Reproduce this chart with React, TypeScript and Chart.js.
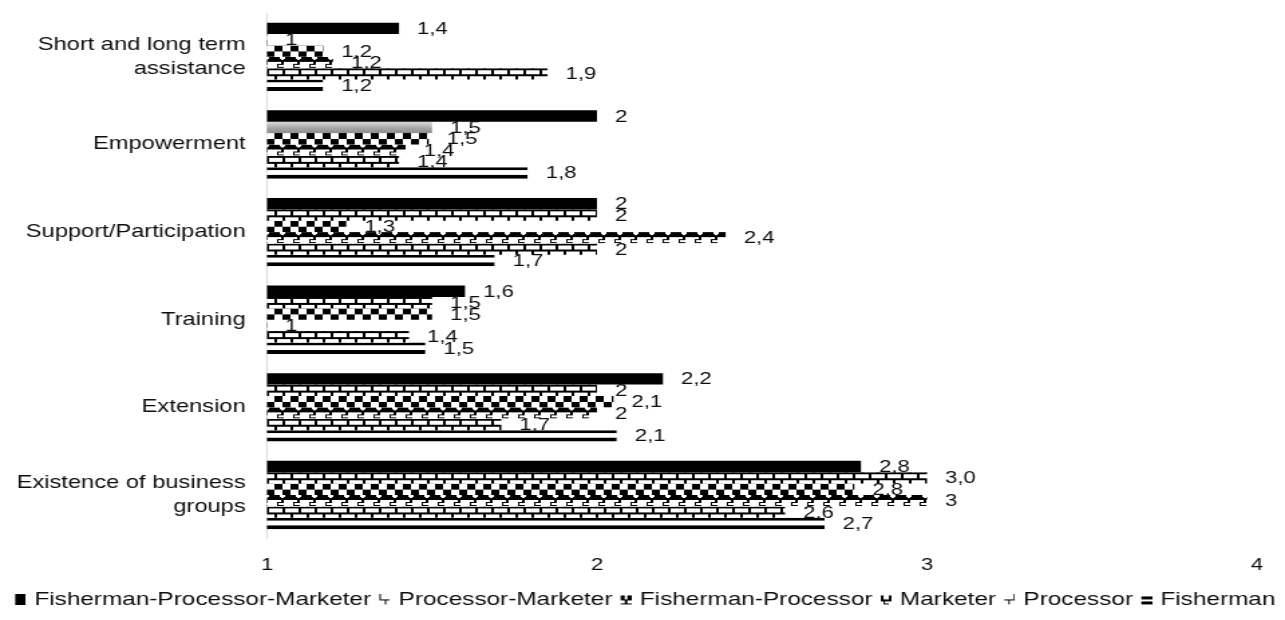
import React, { useEffect, useRef } from "react";
import { Chart, registerables } from "chart.js";

Chart.register(...registerables);

// ---------- data ----------
const categories: (string | string[])[] = [
  ["Short and long term", "assistance"],
  "Empowerment",
  "Support/Participation",
  "Training",
  "Extension",
  ["Existence of business", "groups"],
];

const seriesNames = [
  "Fisherman-Processor-Marketer",
  "Processor-Marketer",
  "Fisherman-Processor",
  "Marketer",
  "Processor",
  "Fisherman",
];

// bar lengths
const fpmValues = [1.4, 2, 2, 1.6, 2.2, 2.8];
const pmValues = [1, 1.5, 2, 1.5, 2, 3.0];
const fpValues = [1.17, 1.49, 1.24, 1.5, 2.05, 2.78];
const marketerValues = [1.2, 1.42, 2.39, 1, 2, 3];
const processorValues = [1.85, 1.4, 2, 1.43, 1.71, 2.57];
const fishermanValues = [1.17, 1.79, 1.69, 1.48, 2.06, 2.69];

// data label texts as printed
const fpmLabels = ["1,4", "2", "2", "1,6", "2,2", "2,8"];
const pmLabels = ["1", "1,5", "2", "1,5", "2", "3,0"];
const fpLabels = ["1,2", "1,5", "1,3", "1,5", "2,1", "2,8"];
const marketerLabels = ["1,2", "1,4", "2,4", "1", "2", "3"];
const processorLabels = ["1,9", "1,4", "2", "1,4", "1,7", "2,6"];
const fishermanLabels = ["1,2", "1,8", "1,7", "1,5", "2,1", "2,7"];

const xMin = 1;
const xMax = 4;
const xStep = 1;

const seriesValues = [fpmValues, pmValues, fpValues, marketerValues, processorValues, fishermanValues];
const seriesLabels = [fpmLabels, pmLabels, fpLabels, marketerLabels, processorLabels, fishermanLabels];

// ---------- style ----------
const FONT = '"Liberation Sans", Arial, sans-serif';
const TEXT = "#0d0d0d";
const INTERNAL_W = 960;
const H = 620;
const DISPLAY_W = 1285;

function tile(w: number, h: number, draw: (g: CanvasRenderingContext2D) => void) {
  const c = document.createElement("canvas");
  c.width = w;
  c.height = h;
  const g = c.getContext("2d")!;
  g.fillStyle = "#fff";
  g.fillRect(0, 0, w, h);
  g.fillStyle = "#000";
  g.strokeStyle = "#000";
  draw(g);
  return c;
}

// legend marker: 15px wide canvas, glyph drawn in the right 8px
function marker(draw: (g: CanvasRenderingContext2D) => void) {
  const c = document.createElement("canvas");
  c.width = 15;
  c.height = 11;
  const g = c.getContext("2d")!;
  g.translate(7, 0);
  g.fillStyle = "#000";
  g.strokeStyle = "#000";
  draw(g);
  return c;
}

export default function App() {
  const ref = useRef<HTMLCanvasElement>(null);

  useEffect(() => {
    const canvas = ref.current;
    if (!canvas) return;

    const brick = tile(12, 12, (g) => {
      g.fillRect(0, 0, 12, 2);
      g.fillRect(0, 2, 2, 4);
      g.fillRect(0, 6, 12, 2);
      g.fillRect(6, 8, 2, 4);
    });
    const brick2 = tile(12, 12, (g) => {
      g.fillRect(0, 0, 12, 2);
      g.fillRect(6, 2, 2, 4);
      g.fillRect(0, 6, 12, 2);
      g.fillRect(0, 8, 2, 4);
    });
    const checker = tile(12, 12, (g) => {
      g.fillRect(0, 0, 6, 6);
      g.fillRect(6, 6, 6, 6);
    });
    const sphere = tile(12, 12, (g) => {
      g.fillRect(0, 0, 12, 5);
      g.fillStyle = "#fff";
      g.fillRect(4, 0, 4, 2);
      g.fillRect(5, 2, 2, 1);
      g.fillStyle = "#000";
      g.fillRect(5, 5, 2, 2);
      g.fillRect(2, 7, 5, 1);
      g.fillRect(2, 8, 1, 2);
      g.fillRect(2, 10, 5, 1);
    });
    const tiles: (HTMLCanvasElement | null)[] = [null, brick, checker, sphere, brick2, null];

    const markers = [
      marker((g) => g.fillRect(0, 0, 8, 11)),
      marker((g) => {
        g.fillRect(0, 0, 1, 6);
        g.fillRect(0, 5, 8, 1);
        g.fillRect(4, 6, 1, 4);
      }),
      marker((g) => {
        g.fillRect(0, 1, 3, 5);
        g.fillRect(5, 1, 3, 5);
        g.fillRect(3, 5, 2, 4);
        g.fillRect(0, 9, 8, 1);
      }),
      marker((g) => {
        g.fillRect(0, 1, 2, 5);
        g.fillRect(6, 1, 2, 5);
        g.fillRect(0, 5, 8, 2);
        g.fillRect(2, 7, 1, 3);
        g.fillRect(2, 9, 4, 1);
      }),
      marker((g) => {
        g.fillRect(7, 0, 1, 6);
        g.fillRect(0, 5, 8, 1);
        g.fillRect(3, 6, 1, 4);
      }),
      marker((g) => {
        g.fillRect(0, 2, 8, 3);
        g.fillRect(0, 7, 8, 3);
      }),
    ];

    const patternPlugin = {
      id: "alignedPatterns",
      beforeDatasetsDraw(chart: any) {
        const ctx: CanvasRenderingContext2D = chart.ctx;
        chart.data.datasets.forEach((_ds: any, di: number) => {
          const meta = chart.getDatasetMeta(di);
          const t = tiles[di];
          meta.data.forEach((el: any, i: number) => {
            const top = el.y - el.height / 2;
            const left = Math.min(el.x, el.base);
            let fill: any = null;
            if (di === 1 && i === 1) {
              const gr = ctx.createLinearGradient(0, top, 0, top + el.height);
              gr.addColorStop(0, "#dedede");
              gr.addColorStop(0.6, "#a3a3a3");
              gr.addColorStop(1, "#8c8c8c");
              fill = gr;
            } else if (t) {
              const p = ctx.createPattern(t, "repeat")!;
              p.setTransform(new DOMMatrix().translate(left, top));
              fill = p;
            }
            if (fill) {
              el.options = Object.assign({}, el.options, { backgroundColor: fill });
            }
          });
        });
      },
    };

    const labelPlugin = {
      id: "valueLabels",
      afterDatasetsDraw(chart: any) {
        const ctx: CanvasRenderingContext2D = chart.ctx;
        ctx.save();
        ctx.font = `16.5px ${FONT}`;
        ctx.fillStyle = TEXT;
        ctx.textAlign = "left";
        ctx.textBaseline = "middle";
        chart.data.datasets.forEach((_ds: any, di: number) => {
          const meta = chart.getDatasetMeta(di);
          meta.data.forEach((el: any, i: number) => {
            ctx.fillText(seriesLabels[di][i], el.x + 13.5, el.y + 1);
          });
        });
        ctx.restore();
      },
    };

    const datasets = seriesNames.map((name, di) => {
      const base: any = {
        label: name,
        data: seriesValues[di],
        backgroundColor: "#000",
        borderWidth: 0,
        categoryPercentage: 0.78,
        barPercentage: 1,
      };
      if (di === 5) {
        base.backgroundColor = "#fff";
        base.borderColor = "#000";
        base.borderWidth = { top: 3, bottom: 4, left: 0, right: 0 };
        base.borderSkipped = false;
      }
      return base;
    });

    const chart = new Chart(canvas, {
      type: "bar",
      data: { labels: categories as any, datasets },
      plugins: [patternPlugin, labelPlugin],
      options: {
        indexAxis: "y",
        responsive: false,
        animation: false,
        devicePixelRatio: 1,
        layout: { padding: { top: 13, right: 0, bottom: 1, left: 0 } },
        scales: {
          x: {
            type: "linear",
            min: xMin,
            max: xMax,
            ticks: {
              stepSize: xStep,
              color: TEXT,
              font: { family: FONT, size: 16.5 },
              padding: 17,
            },
            grid: { display: false, drawTicks: false },
            border: { display: false },
            afterFit(scale: any) {
              scale.height = 50;
              scale.paddingRight = 21;
            },
          },
          y: {
            type: "category",
            offset: true,
            ticks: {
              color: TEXT,
              font: { family: FONT, size: 17.7, lineHeight: 1.35 },
              padding: 16,
            },
            grid: { display: false, drawTicks: false },
            border: { display: true, color: "#d9d9d9", width: 1 },
            afterFit(scale: any) {
              scale.width = 199.5;
              scale.paddingTop = 0;
              scale.paddingBottom = 0;
            },
          },
        },
        plugins: {
          tooltip: { enabled: false },
          legend: {
            position: "bottom",
            align: "center",
            labels: {
              usePointStyle: true,
              boxWidth: 9.4,
              boxHeight: 9,
              padding: 2,
              color: TEXT,
              font: { family: FONT, size: 18.2 },
              generateLabels: () =>
                seriesNames.map((n, i) => ({
                  text: n,
                  pointStyle: markers[i] as any,
                  fillStyle: "#000",
                  strokeStyle: "rgba(0,0,0,0)",
                  lineWidth: 0,
                  hidden: false,
                  datasetIndex: i,
                  fontColor: TEXT,
                })),
            },
          },
        },
      } as any,
    });

    return () => chart.destroy();
  }, []);

  return (
    <div style={{ position: "fixed", left: 0, top: 0, width: DISPLAY_W, height: H, background: "#fff" }}>
      <canvas
        ref={ref}
        width={INTERNAL_W}
        height={H}
        style={{ width: `${DISPLAY_W}px`, height: `${H}px`, display: "block" }}
      />
    </div>
  );
}
